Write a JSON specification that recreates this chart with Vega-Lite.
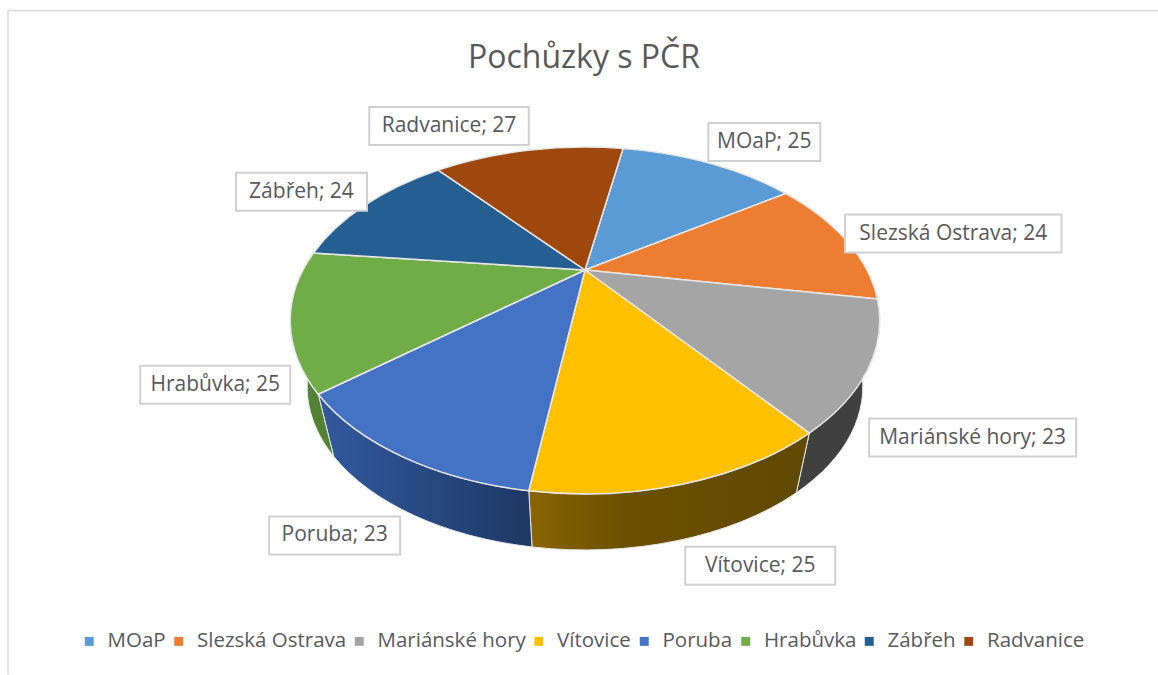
{
  "$schema": "https://vega.github.io/schema/vega-lite/v6.json",
  "width": 1158,
  "height": 675,
  "padding": 0,
  "autosize": "none",
  "background": "white",
  "view": {"stroke": null},
  "title": {"text": "Pochůzky s PČR", "font": "Open Sans", "fontSize": 32, "fontWeight": "normal", "color": "#595959", "anchor": "middle", "dx": 5, "offset": -75, "orient": "top", "frame": "group"},
  "data": {"values": [
    {"ord": 1, "name": "MOaP", "value": 25},
    {"ord": 2, "name": "Slezská Ostrava", "value": 24},
    {"ord": 3, "name": "Mariánské hory", "value": 23},
    {"ord": 4, "name": "Vítovice", "value": 25},
    {"ord": 5, "name": "Poruba", "value": 23},
    {"ord": 6, "name": "Hrabůvka", "value": 25},
    {"ord": 7, "name": "Zábřeh", "value": 24},
    {"ord": 8, "name": "Radvanice", "value": 27}
  ]},
  "transform": [
    {"window": [{"op": "sum", "field": "value", "as": "end"}], "sort": [{"field": "ord", "order": "ascending"}]},
    {"joinaggregate": [{"op": "sum", "field": "value", "as": "total"}]},
    {"calculate": "0.1745 + 2*PI*(datum.end-datum.value)/datum.total", "as": "a0"},
    {"calculate": "0.1745 + 2*PI*datum.end/datum.total", "as": "a1"},
    {"calculate": "(datum.a0+datum.a1)/2", "as": "mid"},
    {"calculate": "round(100*(6 + 282*sin(datum.a0)/(1+0.291*cos(datum.a0))))/100", "as": "x0"},
    {"calculate": "round(100*(-67.5 - 158.8*cos(datum.a0)/(1+0.291*cos(datum.a0))))/100", "as": "y0"},
    {"calculate": "round(100*(6 + 282*sin(datum.a1)/(1+0.291*cos(datum.a1))))/100", "as": "x1"},
    {"calculate": "round(100*(-67.5 - 158.8*cos(datum.a1)/(1+0.291*cos(datum.a1))))/100", "as": "y1"},
    {"calculate": "round(100*(6 + (datum.x0-6)*278/295))/100", "as": "bx0"},
    {"calculate": "round(100*(49.5 + (datum.y0+17)*163/173.5))/100", "as": "by0"},
    {"calculate": "round(100*(6 + (datum.x1-6)*278/295))/100", "as": "bx1"},
    {"calculate": "round(100*(49.5 + (datum.y1+17)*163/173.5))/100", "as": "by1"},
    {"calculate": "'M 6 -67.5 L ' + datum.x0 + ' ' + datum.y0 + ' A 295 173.5 0 0 1 ' + datum.x1 + ' ' + datum.y1 + ' Z'", "as": "wedge"},
    {"calculate": "'M ' + datum.x0 + ' ' + datum.y0 + ' A 295 173.5 0 0 1 ' + datum.x1 + ' ' + datum.y1 + ' L ' + datum.bx1 + ' ' + datum.by1 + ' A 278 163 0 0 0 ' + datum.bx0 + ' ' + datum.by0 + ' Z'", "as": "side"},
    {"calculate": "datum.name + '; ' + datum.value", "as": "label"},
    {"calculate": "length(datum.label)*9.5 + 36", "as": "w"},
    {"calculate": "585 + 282*sin(datum.mid)/(1+0.291*cos(datum.mid)) + (sin(datum.mid)>0?1:-1)*datum.w/2", "as": "lx"},
    {"calculate": "270 - 158.8*cos(datum.mid)/(1+0.291*cos(datum.mid)) - 25*cos(datum.mid) + (cos(datum.mid)<0?58:0)", "as": "ly"},
    {"calculate": "'M ' + (-datum.w/2) + ' -19 L ' + (datum.w/2) + ' -19 L ' + (datum.w/2) + ' 19 L ' + (-datum.w/2) + ' 19 Z'", "as": "box"}
  ],
  "layer": [
    {
      "mark": {"type": "point", "shape": "M -571 337 L -571 -327 L 579 -327", "size": 4, "filled": false, "stroke": "#d9d9d9", "strokeWidth": 1.5, "opacity": 1},
      "transform": [{"filter": "datum.ord == 1"}]
    },
    {
      "transform": [{"filter": "datum.ord == 3"}],
      "mark": {"type": "point", "filled": true, "size": 4, "opacity": 1, "fill": "#404040", "stroke": "#e8e8e8", "strokeWidth": 1},
      "encoding": {"shape": {"field": "side", "type": "nominal", "scale": null}}
    },
    {
      "transform": [{"filter": "datum.ord == 4"}],
      "mark": {"type": "point", "filled": true, "size": 4, "opacity": 1, "stroke": "#e8e8e8", "strokeWidth": 1,
        "fill": {"gradient": "linear", "x1": 0, "y1": 0, "x2": 1, "y2": 0, "stops": [{"offset": 0, "color": "#8a6500"}, {"offset": 0.35, "color": "#6b5000"}, {"offset": 1, "color": "#5f4800"}]}},
      "encoding": {"shape": {"field": "side", "type": "nominal", "scale": null}}
    },
    {
      "transform": [{"filter": "datum.ord == 5"}],
      "mark": {"type": "point", "filled": true, "size": 4, "opacity": 1, "stroke": "#e8e8e8", "strokeWidth": 1,
        "fill": {"gradient": "linear", "x1": 0, "y1": 0, "x2": 1, "y2": 0, "stops": [{"offset": 0, "color": "#315a9e"}, {"offset": 1, "color": "#1f3864"}]}},
      "encoding": {"shape": {"field": "side", "type": "nominal", "scale": null}}
    },
    {
      "transform": [{"filter": "datum.ord == 6"}],
      "mark": {"type": "point", "filled": true, "size": 4, "opacity": 1, "fill": "#548235", "stroke": "#e8e8e8", "strokeWidth": 1},
      "encoding": {"shape": {"field": "side", "type": "nominal", "scale": null}}
    },
    {
      "mark": {"type": "point", "filled": true, "size": 4, "opacity": 1, "stroke": "#e8e8e8", "strokeWidth": 1.5},
      "encoding": {
        "shape": {"field": "wedge", "type": "nominal", "scale": null},
        "color": {"field": "name", "type": "nominal",
          "scale": {"domain": ["MOaP", "Slezská Ostrava", "Mariánské hory", "Vítovice", "Poruba", "Hrabůvka", "Zábřeh", "Radvanice"],
                    "range": ["#5B9BD5", "#ED7D31", "#A5A5A5", "#FFC000", "#4472C4", "#70AD47", "#255E91", "#9E480E"]},
          "legend": {"title": null, "orient": "none", "legendX": 79, "legendY": 631, "direction": "horizontal", "columns": 8,
            "symbolType": "square", "symbolSize": 80, "symbolStrokeWidth": 0, "labelFont": "Open Sans", "labelFontSize": 20.5, "labelColor": "#595959", "labelOffset": 8, "columnPadding": 2.5, "labelLimit": 300}
        }
      }
    },
    {
      "mark": {"type": "point", "filled": true, "size": 4, "opacity": 1, "fill": "white", "stroke": "#d0d0d0", "strokeWidth": 2},
      "encoding": {
        "x": {"field": "lx", "type": "quantitative", "scale": null, "axis": null},
        "y": {"field": "ly", "type": "quantitative", "scale": null, "axis": null},
        "shape": {"field": "box", "type": "nominal", "scale": null}
      }
    },
    {
      "mark": {"type": "text", "font": "Open Sans", "fontSize": 21, "color": "#595959", "align": "center", "baseline": "middle"},
      "encoding": {
        "x": {"field": "lx", "type": "quantitative", "scale": null, "axis": null},
        "y": {"field": "ly", "type": "quantitative", "scale": null, "axis": null},
        "text": {"field": "label", "type": "nominal"}
      }
    }
  ]
}
